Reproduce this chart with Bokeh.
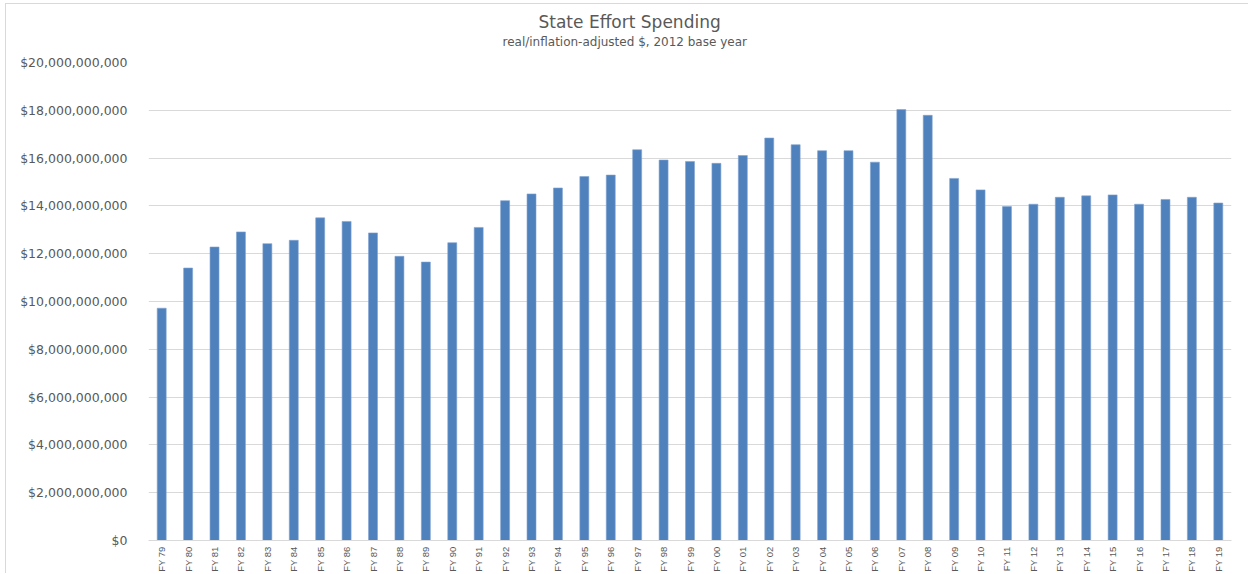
import math
from bokeh.plotting import figure
from bokeh.models import (ColumnDataSource, FactorRange, Range1d, NumeralTickFormatter,
                          SingleIntervalTicker, Title)
from bokeh.embed import file_html
from bokeh.resources import INLINE

years = ["FY 79", "FY 80", "FY 81", "FY 82", "FY 83", "FY 84", "FY 85", "FY 86", "FY 87",
         "FY 88", "FY 89", "FY 90", "FY 91", "FY 92", "FY 93", "FY 94", "FY 95", "FY 96",
         "FY 97", "FY 98", "FY 99", "FY 00", "FY 01", "FY 02", "FY 03", "FY 04", "FY 05",
         "FY 06", "FY 07", "FY 08", "FY 09", "FY 10", "FY 11", "FY 12", "FY 13", "FY 14",
         "FY 15", "FY 16", "FY 17", "FY 18", "FY 19"]
spending_billions = [9.72, 11.40, 12.28, 12.91, 12.42, 12.56, 13.50, 13.35, 12.87,
                     11.89, 11.65, 12.46, 13.10, 14.22, 14.50, 14.75, 15.23, 15.29,
                     16.35, 15.92, 15.86, 15.78, 16.11, 16.84, 16.56, 16.31, 16.31,
                     15.83, 18.03, 17.79, 15.15, 14.67, 13.97, 14.07, 14.36, 14.42,
                     14.46, 14.07, 14.27, 14.36, 14.12]
spending = [v * 1e9 for v in spending_billions]

title_text = "State Effort Spending"
subtitle_text = "real/inflation-adjusted $, 2012 base year"

src = ColumnDataSource(dict(year=years, spending=spending))

p = figure(width=1243, height=570, x_range=FactorRange(*years),
           y_range=Range1d(0, 20e9), output_backend="svg", toolbar_location=None,
           min_border_left=142, min_border_right=18, min_border_top=58,
           min_border_bottom=34)
p.title = None

p.vbar(x="year", top="spending", width=0.34, source=src,
       fill_color="#4f81bd", line_color="#7fa3d0", line_width=0.6)

sub = Title(text=subtitle_text, align="left", offset=354, standoff=28,
            text_font="DejaVu Sans", text_font_size="12px", text_font_style="normal",
            text_color="#595959")
p.add_layout(sub, "above")
ttl = Title(text=title_text, align="left", offset=390, standoff=-26,
            text_font="DejaVu Sans", text_font_size="17px", text_font_style="normal",
            text_color="#595959")
p.add_layout(ttl, "above")

p.outline_line_color = None
p.background_fill_color = "white"
p.border_fill_color = "white"

p.xgrid.grid_line_color = None
p.ygrid.grid_line_color = "#d9d9d9"
p.ygrid.grid_line_width = 1

p.yaxis.ticker = SingleIntervalTicker(interval=2e9)
p.yaxis.formatter = NumeralTickFormatter(format="$0,0")
p.yaxis.axis_line_color = None
p.yaxis.major_tick_line_color = None
p.yaxis.minor_tick_line_color = None
p.yaxis.major_tick_out = 0
p.yaxis.major_tick_in = 0
p.yaxis.major_label_text_font = "DejaVu Sans"
p.yaxis.major_label_text_font_size = "12.5px"
p.yaxis.major_label_text_color = "#595959"
p.yaxis.major_label_standoff = 17

p.xaxis.axis_line_color = "#d9d9d9"
p.xaxis.major_tick_line_color = None
p.xaxis.minor_tick_line_color = None
p.xaxis.major_tick_out = 0
p.xaxis.major_tick_in = 0
p.xaxis.major_label_orientation = math.pi / 2
p.xaxis.major_label_text_font = "Liberation Sans"
p.xaxis.major_label_text_font_size = "9.5px"
p.xaxis.major_label_text_color = "#595959"
p.xaxis.major_label_standoff = 6

p.styles = {"border-left": "1px solid #d9d9d9", "border-top": "1px solid #d9d9d9",
            "margin-left": "5px", "margin-top": "3px"}

open("out.html", "w").write(file_html(p, INLINE))
